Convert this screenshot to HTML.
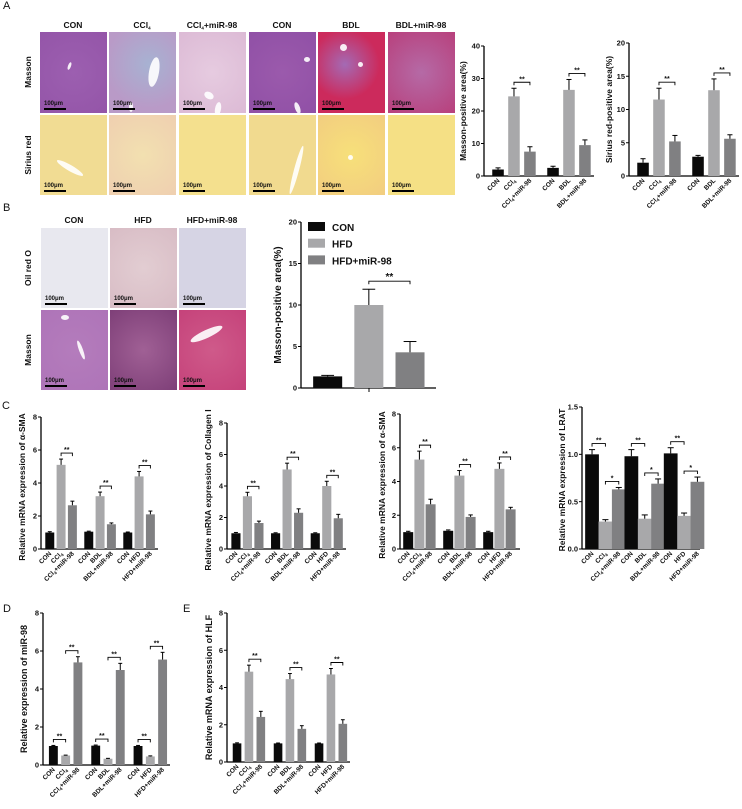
<!DOCTYPE html>
<html><head><meta charset="utf-8"><style>
html,body{margin:0;padding:0;background:#fff;}
#root{position:relative;width:742px;height:809px;overflow:hidden;font-family:"Liberation Sans",Arial,sans-serif;}
.im{position:absolute;overflow:hidden;}
.v{position:absolute;background:#fff;border-radius:50%;opacity:.9;}
.sb{position:absolute;left:4px;bottom:3px;font:bold 6px "Liberation Sans",sans-serif;color:#111;border-bottom:2px solid #000;padding:0 3px 0 0;line-height:7px;}
svg{position:absolute;left:0;top:0;}
</style></head><body>
<div id="root">
<div id="imgs"></div>
<svg id="svg" width="742" height="809"></svg>
</div>
<script>
// ---------- chart data ----------
const grp3Labels = ["CON","CCl4","CCl4+miR-98","CON","BDL","BDL+miR-98","CON","HFD","HFD+miR-98"];
const aLabels = ["CON","CCl4","CCl4+miR-98","CON","BDL","BDL+miR-98"];
const a1Vals = [2,24.5,7.5,2.5,26.5,9.5];
const a1Errs = [0.5,2.5,1.5,0.5,3.2,1.6];
const a1Ticks = [0,10,20,30,40];
const a2Vals = [2,11.5,5.2,2.9,12.9,5.6];
const a2Errs = [0.6,1.7,0.9,0.2,1.7,0.6];
const a2Ticks = [0,5,10,15,20];
const bVals = [1.4,10,4.3];
const bErrs = [0.12,1.9,1.3];
const bTicks = [0,5,10,15,20];
const bLegend = ["CON","HFD","HFD+miR-98"];
const c1Vals = [1,5.1,2.65,1.05,3.2,1.5,1,4.4,2.1];
const c1Errs = [0.05,0.35,0.25,0.03,0.25,0.08,0.03,0.3,0.2];
const c2Vals = [1,3.35,1.65,1,5.05,2.3,1,4.0,1.95];
const c2Errs = [0.05,0.25,0.12,0.03,0.4,0.25,0.03,0.3,0.25];
const c3Vals = [1,5.3,2.65,1.08,4.35,1.9,1,4.75,2.35];
const c3Errs = [0.05,0.5,0.3,0.05,0.3,0.12,0.05,0.35,0.12];
const c4Vals = [1,0.29,0.63,0.98,0.32,0.69,1.01,0.35,0.71];
const c4Errs = [0.05,0.02,0.02,0.07,0.04,0.05,0.06,0.03,0.05];
const dVals = [1,0.5,5.4,1.02,0.33,5.0,1.0,0.45,5.55];
const dErrs = [0.03,0.02,0.3,0.03,0.02,0.35,0.03,0.03,0.38];
const eVals = [1,4.85,2.42,1,4.45,1.78,1,4.7,2.05];
const eErrs = [0.03,0.35,0.3,0.02,0.3,0.17,0.02,0.32,0.22];
const ticks8 = [0,2,4,6,8];
const ticksLrat = [0,0.5,1.0,1.5];

const NS="http://www.w3.org/2000/svg";
const svg=document.getElementById('svg');
const COLORS=["#0a0a0a","#a8a8aa","#808082"];
function el(tag,attrs,parent){const e=document.createElementNS(NS,tag);for(const k in attrs)e.setAttribute(k,attrs[k]);(parent||svg).appendChild(e);return e;}
function txt(x,y,s,size,extra,parent){const t=el('text',Object.assign({x:x,y:y,'font-size':size,'font-weight':'bold','font-family':'Liberation Sans, Arial, sans-serif',fill:'#111'},extra||{}),parent);t.textContent=s;return t;}
function labelText(t,s){
  if(s.indexOf("CCl4")===0){
    t.appendChild(document.createTextNode("CCl"));
    const sub=document.createElementNS(NS,'tspan');sub.setAttribute('font-size','4.5');sub.setAttribute('dy','1.5');sub.textContent="4";t.appendChild(sub);
    const rest=document.createElementNS(NS,'tspan');rest.setAttribute('dy','-1.5');rest.textContent=s.slice(4);t.appendChild(rest);
  } else t.textContent=s;
}
function chart(c){
  const g=el('g',{});
  
  
  const yS=v=>c.yZero-v/c.max*(c.yZero-c.yTop);
  const n=c.vals.length, groups=c.groups;
  const gw=(c.x1-c.x0)/groups;
  const off=c.off||0.14, step=c.step||0.29, bwf=c.bw||0.21;
  const xS=i=>c.x0+Math.floor(i/3)*gw+gw*off+(i%3)*gw*step;
  const bw=gw*bwf;
  el('line',{x1:c.x0,y1:c.yTop,x2:c.x0,y2:c.yZero,stroke:'#000','stroke-width':1.3},g);
  el('line',{x1:c.x0,y1:c.yZero,x2:c.x1,y2:c.yZero,stroke:'#000','stroke-width':1.3},g);
  c.ticks.forEach(tv=>{
    const y=yS(tv);
    el('line',{x1:c.x0-3,y1:y,x2:c.x0,y2:y,stroke:'#000','stroke-width':1},g);
    const t=txt(c.x0-4,y+2.6,c.fmt?c.fmt(tv):String(tv),7.5,{'text-anchor':'end'},g);
    
    
  });
  for(let i=0;i<n;i++){
    const x=xS(i), v=c.vals[i], e=c.errs[i];
    const r=el('rect',{x:x,y:yS(v),width:bw,height:c.yZero-yS(v),fill:COLORS[i%3]},g);
    
    
    const cx=x+bw/2;
    el('line',{x1:cx,y1:yS(v),x2:cx,y2:yS(v+e),stroke:'#000','stroke-width':1},g);
    el('line',{x1:cx-bw*0.22,y1:yS(v+e),x2:cx+bw*0.22,y2:yS(v+e),stroke:'#000','stroke-width':1},g);
    if(c.labels){
      const lx=cx+2, ly=c.yZero+5;
      const t=el('text',{x:lx,y:ly,'font-size':6.5,'font-weight':'bold','font-family':'Liberation Sans, Arial, sans-serif',fill:'#111','text-anchor':'end',transform:'rotate(-45 '+lx+' '+ly+')'},g);
      labelText(t,c.labels[i]);
      
      
    }
  }
  (c.sigs||[]).forEach(s=>{
    const [a,b,mark]=s;
    const top=Math.min(yS(c.vals[a]+c.errs[a]),yS(c.vals[b]+c.errs[b]));
    const y=top-(s[3]||6);
    const xa=xS(a)+bw/2, xb=xS(b)+bw/2;
    el('path',{d:`M${xa} ${y+3}V${y}H${xb}V${y+3}`,fill:'none',stroke:'#000','stroke-width':0.9},g);
    const t=txt((xa+xb)/2,y-1,mark,c.sigSize||7,{'text-anchor':'middle'},g);
    
    
  });
  const ly=c.ylY||(c.yTop+c.yZero)/2;
  const yl=txt(c.ylX,ly,c.ylabel,c.ylSize||8.5,{'text-anchor':'middle',transform:`rotate(-90 ${c.ylX} ${ly})`},g);
  
  
  return {g,xS,bw,yS};
}
const pairs9=[[1,2,"**"],[4,5,"**"],[7,8,"**"]];
chart({name:'chart-a-masson',x0:484,x1:594,yTop:46,yZero:176,max:40,ticks:a1Ticks,vals:a1Vals,errs:a1Errs,labels:aLabels,groups:2,sigs:[[1,2,"**"],[4,5,"**"]],ylabel:"Masson-positive area(%)",ylX:466,off:0.15,step:0.29,bw:0.21});
chart({name:'chart-a-sirius',x0:629,x1:739,yTop:43,yZero:176,max:20,ticks:a2Ticks,vals:a2Vals,errs:a2Errs,labels:aLabels,groups:2,sigs:[[1,2,"**"],[4,5,"**"]],ylabel:"Sirius red-positive area(%)",ylX:612,off:0.15,step:0.29,bw:0.21});
chart({name:'chart-b-masson',x0:301,x1:436,yTop:222,yZero:388,max:20,ticks:bTicks,vals:bVals,errs:bErrs,groups:1,sigs:[[1,2,"**",8]],sigSize:10,ylabel:"Masson-positive area(%)",ylX:281,ylSize:10,off:0.09,step:0.305,bw:0.215});
el('line',{x1:369,y1:388,x2:369,y2:392,stroke:'#000','stroke-width':1});
bLegend.forEach((s,i)=>{
  const r=el('rect',{x:308,y:222+i*16.7,width:17,height:9,fill:COLORS[i]});
  
  
  const t=txt(332,231+i*16.7,s,10);
  
  
});
chart({name:'chart-c-asma',x0:41,x1:158,yTop:417,yZero:549,max:8,ticks:ticks8,vals:c1Vals,errs:c1Errs,labels:grp3Labels,groups:3,sigs:pairs9,ylabel:"Relative mRNA expression of α-SMA",ylX:25,ylY:487,off:0.11,step:0.29,bw:0.23});
chart({name:'chart-c-collagen',x0:227,x1:346,yTop:423,yZero:549,max:8,ticks:ticks8,vals:c2Vals,errs:c2Errs,labels:grp3Labels,groups:3,sigs:pairs9,ylabel:"Relative mRNA expression of Collagen I",ylX:211,ylY:490,off:0.11,step:0.29,bw:0.23});
chart({name:'chart-c-asma-2',x0:400,x1:520,yTop:414,yZero:549,max:8,ticks:ticks8,vals:c3Vals,errs:c3Errs,labels:grp3Labels,groups:3,sigs:pairs9,ylabel:"Relative mRNA expression of α-SMA",ylX:385,ylY:485,off:0.08,step:0.28,bw:0.25});
chart({name:'chart-c-lrat',x0:582,x1:700,yTop:407,yZero:549,max:1.5,ticks:ticksLrat,fmt:v=>v.toFixed(1),vals:c4Vals,errs:c4Errs,labels:grp3Labels,groups:3,sigs:[[0,1,"**"],[1,2,"*"],[3,4,"**"],[4,5,"*"],[6,7,"**"],[7,8,"*"]],ylabel:"Relative mRNA expression of LRAT",ylX:565,ylY:480,off:0.08,step:0.34,bw:0.35});
chart({name:'chart-d-mir98',x0:43,x1:170,yTop:613,yZero:765,max:8,ticks:ticks8,vals:dVals,errs:dErrs,labels:grp3Labels,groups:3,sigs:[[0,1,"**"],[1,2,"**"],[3,4,"**"],[4,5,"**"],[6,7,"**"],[7,8,"**"]],ylabel:"Relative expression of miR-98",ylX:27,ylSize:9});
chart({name:'chart-e-hlf',x0:227,x1:350,yTop:613,yZero:762,max:8,ticks:ticks8,vals:eVals,errs:eErrs,labels:grp3Labels,groups:3,sigs:pairs9,ylabel:"Relative mRNA expression of HLF",ylX:212,ylSize:9});

[["A",3,9],["B",3,211],["C",2,409],["D",3,612],["E",183,612]].forEach(p=>{
  const t=txt(p[1],p[2],p[0],11,{'font-weight':'normal'});
  
  
});
const aHeads=["CON","CCl4","CCl4+miR-98","CON","BDL","BDL+miR-98"];
const aCols=[40,109,179,249,318,388];
aHeads.forEach((h,i)=>{const t=el('text',{x:aCols[i]+33,y:28,'font-size':8.5,'font-weight':'bold','font-family':'Liberation Sans, Arial, sans-serif','text-anchor':'middle',fill:'#111'});labelText(t,h);

});
const bHeads=["CON","HFD","HFD+miR-98"], bCols=[41,110,179];
bHeads.forEach((h,i)=>{const t=txt(bCols[i]+33,223,h,8.5,{'text-anchor':'middle'});

});
[["Masson",31,72],["Sirius red",31,155],["Oil red O",31,268],["Masson",31,350]].forEach(r=>{
  const t=txt(r[1],r[2],r[0],8.5,{'text-anchor':'middle',transform:`rotate(-90 ${r[1]} ${r[2]})`});
  
  
});

const imgs=document.getElementById('imgs');
function tile(x,y,w,h,bg,vessel,name){
  const d=document.createElement('div');d.className='im';
  d.style.cssText=`left:${x}px;top:${y}px;width:${w}px;height:${h}px;background:${bg};`;
  
  
  (vessel||[]).forEach(v=>{const e=document.createElement('div');e.className='v';e.style.cssText=`left:${v[0]}px;top:${v[1]}px;width:${v[2]}px;height:${v[3]}px;transform:rotate(${v[4]||0}deg);`;d.appendChild(e);});
  const s=document.createElement('div');s.className='sb';s.textContent='100μm';d.appendChild(s);
  imgs.appendChild(d);
}
const aM=["radial-gradient(circle at 50% 50%,#9c5fb0,#9455a8)","radial-gradient(circle at 60% 40%,#a7b2d2,#b99ac7 70%)","radial-gradient(circle at 50% 50%,#e6cbe0,#dcbad5)","radial-gradient(circle,#9b5aac,#9050a6)","radial-gradient(circle at 40% 40%,#a46ab4,#cc2a5c 55%)","radial-gradient(circle,#b56aa6,#b8407c)"];
const aS=["#f1dc93","radial-gradient(circle,#f2e0b0,#efcfb0)","#f4e08e","#f1da8f","radial-gradient(circle,#f7e07a,#f2cd80)","#f5e085"];
const mV=[[[28,30,3,8,20]],[[40,25,10,30,10],[20,70,4,10]],[[25,60,10,7,30],[36,70,6,14,10]],[[55,25,6,5],[46,70,5,12,-20]],[[22,12,7,7],[40,30,5,5]],[]];
const sV=[[[15,50,30,6,30]],[],[],[[45,30,5,50,15]],[[30,40,5,5]],[]];
aCols.forEach((x,i)=>{tile(x,32,67,81,aM[i],mV[i],'masson-image');tile(x,115,67,80,aS[i],sV[i],'sirius-red-image');});
const bO=["#e8e8ef","radial-gradient(circle,#e2cdd2,#d8bcc5)","#d6d4e4"];
const bM=["radial-gradient(circle,#b47cbc,#ae74b8)","radial-gradient(circle,#a06095,#7e3f78)","radial-gradient(circle,#cf5a8a,#c5427a)"];
bCols.forEach((x,i)=>{tile(x,228,67,80,bO[i],[],'oil-red-image');tile(x,310,67,80,bM[i],i===0?[[20,5,8,5],[38,30,4,20,-20]]:(i===2?[[10,20,35,8,-25]]:[]),'masson-image-b');});
</script>
</body></html>
